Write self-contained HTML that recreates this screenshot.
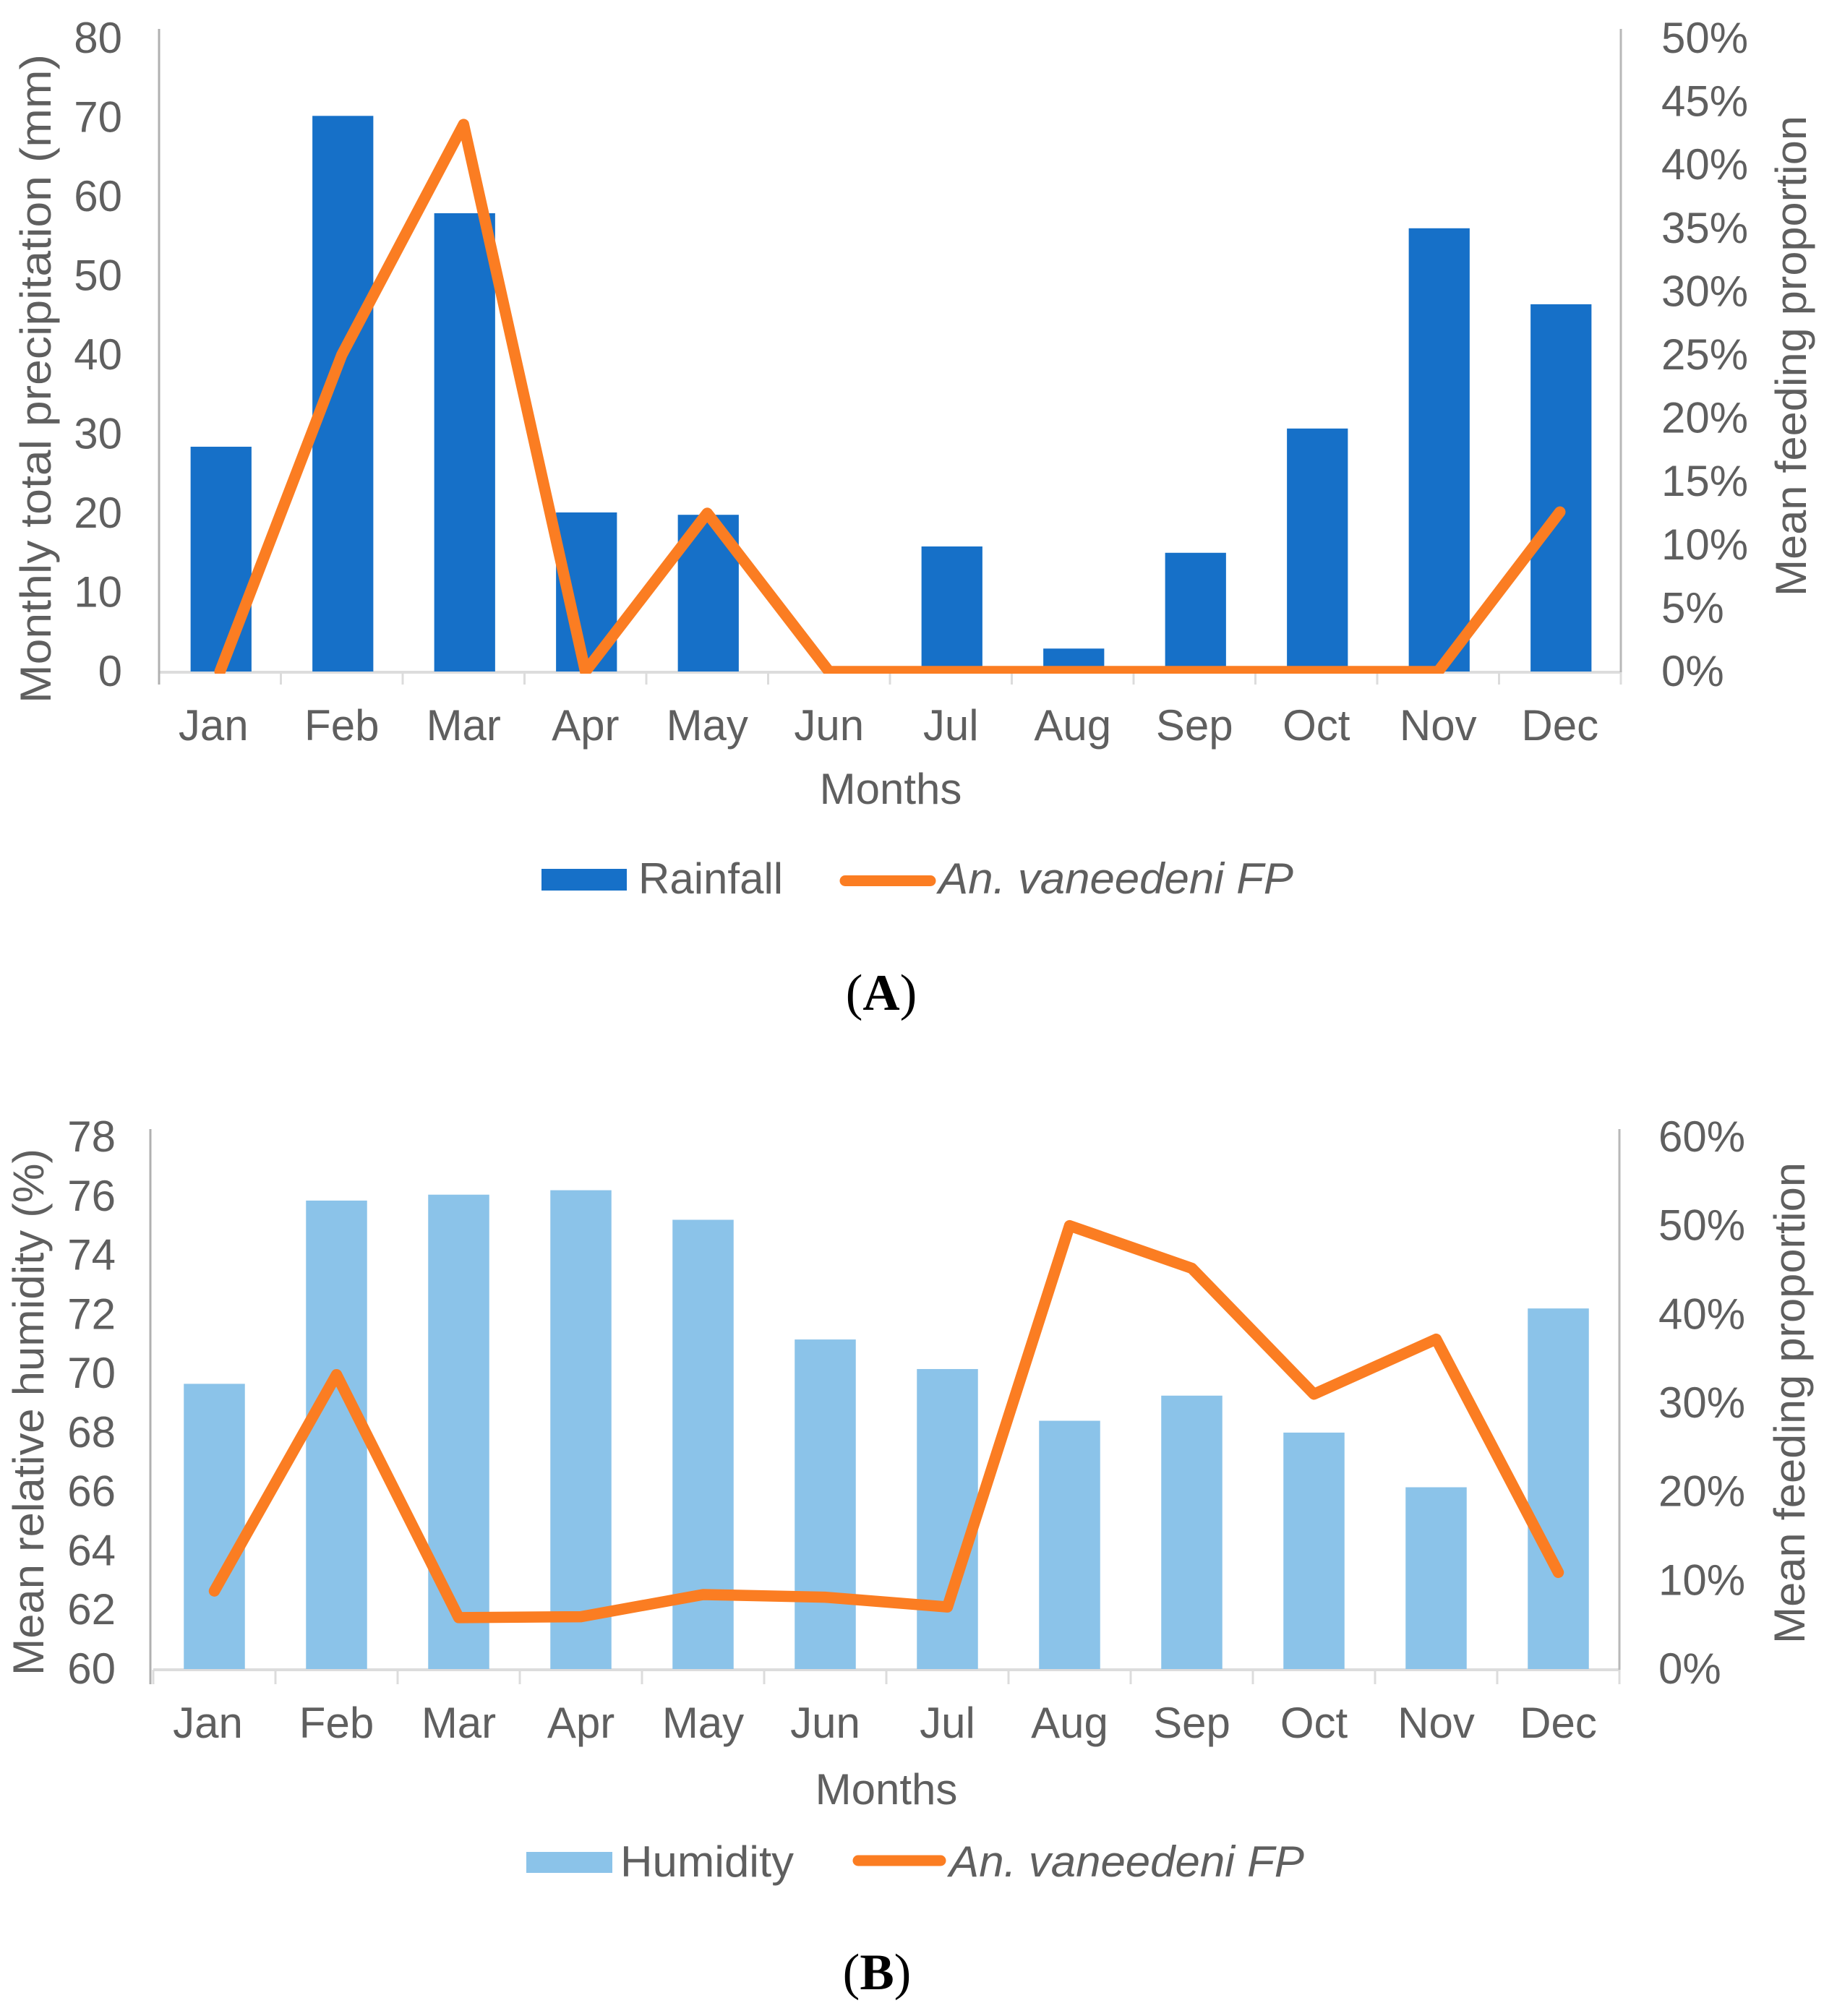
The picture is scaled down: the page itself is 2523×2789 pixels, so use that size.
<!DOCTYPE html>
<html lang="en">
<head>
<meta charset="utf-8">
<title>Rainfall, humidity and An. vaneedeni feeding proportion</title>
<style>
html,body{margin:0;padding:0;background:#fff;}
svg{display:block;}
text{font-family:"Liberation Sans",Arial,sans-serif;font-size:60px;fill:#5f5f5f;}
.cap{font-family:"Liberation Serif","Times New Roman",serif;font-size:71px;fill:#000;}
.it{font-style:italic;}
</style>
</head>
<body>
<svg id="figure" xmlns="http://www.w3.org/2000/svg" width="2523" height="2789" viewBox="0 0 2523 2789">
  <rect x="0" y="0" width="2523" height="2789" fill="#ffffff"/>
  <defs>
    <clipPath id="clipA"><rect x="200" y="20" width="2060" height="912"/></clipPath>
    <clipPath id="clipB"><rect x="190" y="1540" width="2060" height="780"/></clipPath>
  </defs>

  <g id="chartA"></g>
  <text transform="translate(70,973) rotate(-90)" textLength="898" lengthAdjust="spacingAndGlyphs">Monthly total precipitation (mm)</text>
  <text transform="translate(2498,825) rotate(-90)" textLength="665" lengthAdjust="spacingAndGlyphs">Mean feeding proportion</text>
  <text x="1232" y="1112" text-anchor="middle">Months</text>
  <rect x="749" y="1202" width="118" height="30" fill="#1670C8"/>
  <text x="883" y="1236">Rainfall</text>
  <line x1="1169" y1="1218.5" x2="1287" y2="1218.5" stroke="#FB7D22" stroke-width="15" stroke-linecap="round"/>
  <text class="it" x="1298" y="1236" textLength="491" lengthAdjust="spacingAndGlyphs">An. vaneedeni FP</text>
  <text class="cap" x="1219" y="1397" text-anchor="middle">(<tspan font-weight="bold">A</tspan>)</text>

  <g id="chartB"></g>
  <text transform="translate(60,2318) rotate(-90)" textLength="729" lengthAdjust="spacingAndGlyphs">Mean relative humidity (%)</text>
  <text transform="translate(2496,2274) rotate(-90)" textLength="666" lengthAdjust="spacingAndGlyphs">Mean feeding proportion</text>
  <text x="1226" y="2496" text-anchor="middle">Months</text>
  <rect x="728" y="2562" width="119" height="29" fill="#8BC3E9"/>
  <text x="858" y="2596" textLength="240" lengthAdjust="spacingAndGlyphs">Humidity</text>
  <line x1="1187" y1="2574" x2="1301" y2="2574" stroke="#FB7D22" stroke-width="15" stroke-linecap="round"/>
  <text class="it" x="1313" y="2596" textLength="491" lengthAdjust="spacingAndGlyphs">An. vaneedeni FP</text>
  <text class="cap" x="1213" y="2752" text-anchor="middle">(<tspan font-weight="bold">B</tspan>)</text>
</svg>

<script>
const months = ["Jan","Feb","Mar","Apr","May","Jun","Jul","Aug","Sep","Oct","Nov","Dec"];

const rainfallMm = [28.4,70.2,57.9,20.1,19.8,0,15.8,2.9,15,30.7,56,46.4];
const feedingA = [0,25,43.2,0,12.5,0,0,0,0,0,0,12.6];
const rainfallTicks = [0,10,20,30,40,50,60,70,80];
const feedingTicksA = [0,5,10,15,20,25,30,35,40,45,50];

const humidityPct = [69.65,75.85,76.05,76.2,75.2,71.15,70.15,68.4,69.25,68,66.15,72.2];
const feedingB = [8.8,33.2,5.8,5.9,8.4,8.1,7,50,45.2,31,37.2,10.9];
const humidityTicks = [60,62,64,66,68,70,72,74,76,78];
const feedingTicksB = [0,10,20,30,40,50,60];

const SVGNS = "http://www.w3.org/2000/svg";

function make(tag, parent) {
  const el = document.createElementNS(SVGNS, tag);
  parent.appendChild(el);
  return el;
}

function drawChart(c) {
  const g = document.getElementById(c.id);
  const step = (c.xRight - c.xStart) / months.length;
  const x = i => c.xStart + step * (i + 0.5);
  const yL = v => c.y0 - (v - c.leftMin) / (c.leftMax - c.leftMin) * (c.y0 - c.yTop);
  const yR = v => c.y0 - v / c.rightMax * (c.y0 - c.yTop);

  const base = make("line", g);
  
  
  base.setAttribute("x1", c.xStart);
  base.setAttribute("x2", c.xRight);
  base.setAttribute("y1", c.axisY);
  base.setAttribute("y2", c.axisY);
  base.setAttribute("stroke", "#dcdcdc");
  base.setAttribute("stroke-width", 4);

  for (let i = 0; i <= months.length; i++) {
    const t = make("line", g);
    
    
    t.setAttribute("x1", c.xStart + step * i);
    t.setAttribute("x2", c.xStart + step * i);
    t.setAttribute("y1", c.axisY);
    t.setAttribute("y2", c.tickEnd);
    t.setAttribute("stroke", "#dcdcdc");
    t.setAttribute("stroke-width", 3);
  }

  const la = make("line", g);
  
  
  la.setAttribute("x1", c.xLeftAxis);
  la.setAttribute("x2", c.xLeftAxis);
  la.setAttribute("y1", c.axisTop);
  la.setAttribute("y2", c.tickEnd);
  la.setAttribute("stroke", "#b0b0b0");
  la.setAttribute("stroke-width", 3);

  const ra = make("line", g);
  
  
  ra.setAttribute("x1", c.xRight);
  ra.setAttribute("x2", c.xRight);
  ra.setAttribute("y1", c.axisTop);
  ra.setAttribute("y2", c.axisY);
  ra.setAttribute("stroke", "#b8b8b8");
  ra.setAttribute("stroke-width", 3);

  c.bars.forEach((v, i) => {
    const b = make("rect", g);
    
    
    b.setAttribute("x", x(i) - step * 0.25 + c.barShift);
    b.setAttribute("width", step * 0.5);
    b.setAttribute("y", yL(v));
    b.setAttribute("height", Math.max(0, c.y0 - yL(v)));
    b.setAttribute("fill", c.barColor);
  });

  const pts = c.line.map((v, i) => x(i) + "," + yR(v)).join(" ");
  const pl = make("polyline", g);
  
  
  pl.setAttribute("points", pts);
  pl.setAttribute("fill", "none");
  pl.setAttribute("stroke", "#FB7D22");
  pl.setAttribute("stroke-width", 15.5);
  pl.setAttribute("stroke-linejoin", "round");
  pl.setAttribute("stroke-linecap", "round");
  pl.setAttribute("clip-path", "url(#" + c.clip + ")");

  c.leftTicks.forEach(v => {
    const t = make("text", g);
    
    
    t.setAttribute("x", c.leftLabelX);
    t.setAttribute("y", yL(v) + 20);
    t.setAttribute("text-anchor", "end");
    t.textContent = String(v);
  });

  c.rightTicks.forEach(v => {
    const t = make("text", g);
    
    
    t.setAttribute("x", c.rightLabelX);
    t.setAttribute("y", yR(v) + 20);
    t.textContent = v + "%";
  });

  months.forEach((m, i) => {
    const t = make("text", g);
    
    
    t.setAttribute("x", x(i) + (i === 0 ? -9 : 0));
    t.setAttribute("y", c.monthBaseline);
    t.setAttribute("text-anchor", "middle");
    t.textContent = m;
  });
}

drawChart({
  id: "chartA", clip: "clipA",
  bars: rainfallMm, line: feedingA,
  leftTicks: rainfallTicks, rightTicks: feedingTicksA,
  leftMin: 0, leftMax: 80, rightMax: 50,
  xStart: 220, xRight: 2242, xLeftAxis: 220,
  y0: 929, yTop: 53, axisTop: 40, axisY: 930, tickEnd: 947,
  barShift: 1.5,
  leftLabelX: 169, rightLabelX: 2298, monthBaseline: 1024,
  barColor: "#1670C8"
});

drawChart({
  id: "chartB", clip: "clipB",
  bars: humidityPct, line: feedingB,
  leftTicks: humidityTicks, rightTicks: feedingTicksB,
  leftMin: 60, leftMax: 78, rightMax: 60,
  xStart: 212, xRight: 2240, xLeftAxis: 208,
  y0: 2309, yTop: 1573, axisTop: 1562, axisY: 2310, tickEnd: 2330,
  barShift: 0,
  leftLabelX: 160, rightLabelX: 2294, monthBaseline: 2404,
  barColor: "#8BC3E9"
});
</script>
</body>
</html>
